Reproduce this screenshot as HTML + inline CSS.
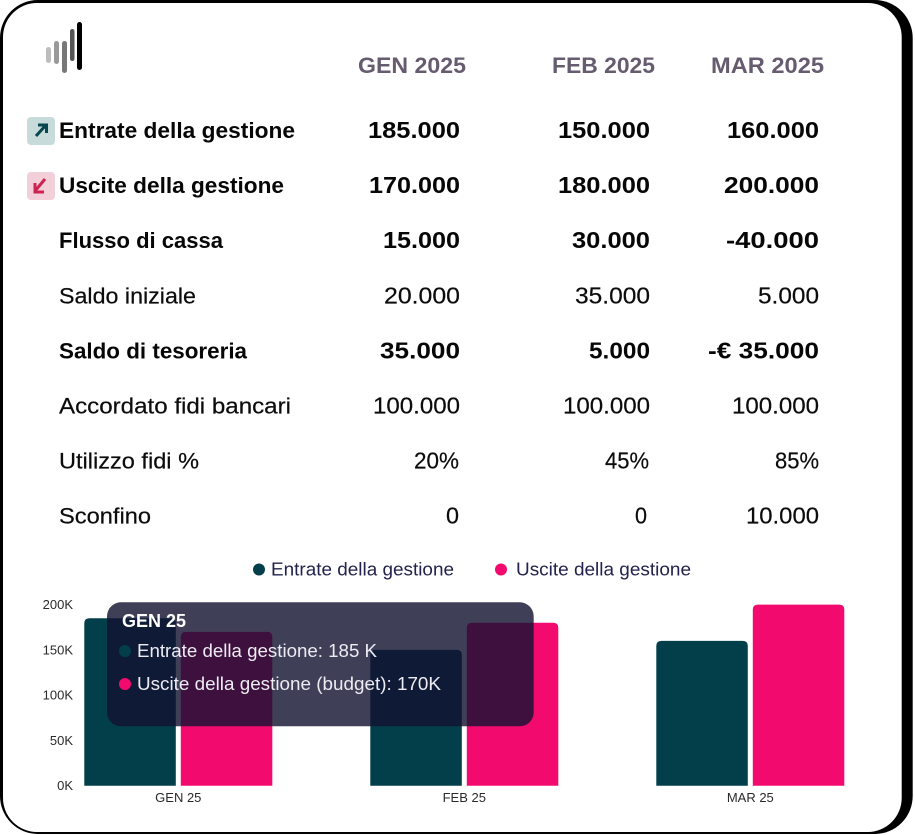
<!DOCTYPE html>
<html lang="it">
<head>
<meta charset="utf-8">
<title>Flusso di cassa</title>
<style>
html,body{margin:0;padding:0;background:#fff;width:915px;height:835px;overflow:hidden}
svg{display:block;font-family:"Liberation Sans",sans-serif}
.h{font-size:22px;font-weight:700;fill:#675c6f}
.b{font-size:22.5px;font-weight:700;fill:#070707}
.r{font-size:22.5px;fill:#0c0c0c;stroke:#0c0c0c;stroke-width:.2px}
.nb{font-size:23px;font-weight:700;fill:#070707}
.nr{font-size:23px;fill:#0c0c0c;stroke:#0c0c0c;stroke-width:.2px}
.tick{font-size:13px;fill:#2a2a2a}
.leg{font-size:18px;fill:#22224e}
</style>
</head>
<body>
<svg width="915" height="835" viewBox="0 0 915 835">
  <rect x="0" y="0" width="912.7" height="834" rx="38" fill="#000"/>
  <rect x="3" y="3" width="898.7" height="829" rx="34" fill="#fff"/>

  <g>
    <rect x="46" y="47" width="5" height="16" rx="2.5" fill="#bdbdbd"/>
    <rect x="54" y="41" width="5" height="23" rx="2.5" fill="#999"/>
    <rect x="62" y="41" width="5" height="32" rx="2.5" fill="#777"/>
    <rect x="70" y="29" width="4.500" height="32" rx="2.2" fill="#555"/>
    <rect x="77" y="22" width="5" height="48" rx="2.5" fill="#000"/>
  </g>

  <text class="h" x="358" y="73" textLength="108" lengthAdjust="spacingAndGlyphs">GEN 2025</text>
  <text class="h" x="552" y="73" textLength="103" lengthAdjust="spacingAndGlyphs">FEB 2025</text>
  <text class="h" x="711" y="73" textLength="113" lengthAdjust="spacingAndGlyphs">MAR 2025</text>

  <g>
    <rect x="27" y="117" width="28" height="28" rx="4" fill="#c8dbdb"/>
    <path d="M36 136 L46 125 M38 125 H46.500 V133" fill="none" stroke="#07474f" stroke-width="3"/>
  </g>
  <g>
    <rect x="27" y="172" width="28" height="28" rx="4" fill="#f3d0d9"/>
    <path d="M45 179 L35 191 M35 183 V192 H44" fill="none" stroke="#cc2350" stroke-width="3"/>
  </g>

  <g>
    <text class="b" x="59" y="138" textLength="236" lengthAdjust="spacingAndGlyphs">Entrate della gestione</text>
    <text class="nb" x="368" y="138" textLength="92" lengthAdjust="spacingAndGlyphs">185.000</text>
    <text class="nb" x="558" y="138" textLength="92" lengthAdjust="spacingAndGlyphs">150.000</text>
    <text class="nb" x="727" y="138" textLength="92" lengthAdjust="spacingAndGlyphs">160.000</text>
  </g>
  <g>
    <text class="b" x="59" y="193" textLength="225" lengthAdjust="spacingAndGlyphs">Uscite della gestione</text>
    <text class="nb" x="369" y="193" textLength="91" lengthAdjust="spacingAndGlyphs">170.000</text>
    <text class="nb" x="558" y="193" textLength="92" lengthAdjust="spacingAndGlyphs">180.000</text>
    <text class="nb" x="724" y="193" textLength="95" lengthAdjust="spacingAndGlyphs">200.000</text>
  </g>
  <g>
    <text class="b" x="59" y="248" textLength="164" lengthAdjust="spacingAndGlyphs">Flusso di cassa</text>
    <text class="nb" x="383" y="248" textLength="77" lengthAdjust="spacingAndGlyphs">15.000</text>
    <text class="nb" x="572" y="248" textLength="78" lengthAdjust="spacingAndGlyphs">30.000</text>
    <text class="nb" x="726" y="248" textLength="93" lengthAdjust="spacingAndGlyphs">-40.000</text>
  </g>
  <g>
    <text class="r" x="59" y="303.500" textLength="137" lengthAdjust="spacingAndGlyphs">Saldo iniziale</text>
    <text class="nr" x="384" y="303.500" textLength="76" lengthAdjust="spacingAndGlyphs">20.000</text>
    <text class="nr" x="575" y="303.500" textLength="75" lengthAdjust="spacingAndGlyphs">35.000</text>
    <text class="nr" x="758" y="303.500" textLength="61" lengthAdjust="spacingAndGlyphs">5.000</text>
  </g>
  <g>
    <text class="b" x="59" y="358.500" textLength="188" lengthAdjust="spacingAndGlyphs">Saldo di tesoreria</text>
    <text class="nb" x="380" y="358.500" textLength="80" lengthAdjust="spacingAndGlyphs">35.000</text>
    <text class="nb" x="589" y="358.500" textLength="61" lengthAdjust="spacingAndGlyphs">5.000</text>
    <text class="nb" x="708" y="358.500" textLength="111" lengthAdjust="spacingAndGlyphs">-€ 35.000</text>
  </g>
  <g>
    <text class="r" x="59" y="413.500" textLength="232" lengthAdjust="spacingAndGlyphs">Accordato fidi bancari</text>
    <text class="nr" x="373" y="413.500" textLength="87" lengthAdjust="spacingAndGlyphs">100.000</text>
    <text class="nr" x="563" y="413.500" textLength="87" lengthAdjust="spacingAndGlyphs">100.000</text>
    <text class="nr" x="732" y="413.500" textLength="87" lengthAdjust="spacingAndGlyphs">100.000</text>
  </g>
  <g>
    <text class="r" x="59" y="468.500" textLength="140" lengthAdjust="spacingAndGlyphs">Utilizzo fidi %</text>
    <text class="nr" x="414" y="468.500" textLength="45" lengthAdjust="spacingAndGlyphs">20%</text>
    <text class="nr" x="605" y="468.500" textLength="44" lengthAdjust="spacingAndGlyphs">45%</text>
    <text class="nr" x="775" y="468.500" textLength="44" lengthAdjust="spacingAndGlyphs">85%</text>
  </g>
  <g>
    <text class="r" x="59" y="523.500" textLength="92" lengthAdjust="spacingAndGlyphs">Sconfino</text>
    <text class="nr" x="446" y="523.500" textLength="13" lengthAdjust="spacingAndGlyphs">0</text>
    <text class="nr" x="635" y="523.500" textLength="12" lengthAdjust="spacingAndGlyphs">0</text>
    <text class="nr" x="746" y="523.500" textLength="73" lengthAdjust="spacingAndGlyphs">10.000</text>
  </g>

  <g>
    <g>
      <circle cx="259" cy="569.500" r="6" fill="#033f4a"/>
      <text class="leg" x="271" y="575.500" textLength="183" lengthAdjust="spacingAndGlyphs">Entrate della gestione</text>
    </g>
    <g>
      <circle cx="501" cy="569.500" r="6" fill="#f30a6e"/>
      <text class="leg" x="516" y="575.500" textLength="175" lengthAdjust="spacingAndGlyphs">Uscite della gestione</text>
    </g>
  </g>

  <g id="chart"></g>

  <g>
    <rect x="107" y="602.300" width="426.700" height="124" rx="14" fill="rgb(19,19,49)" fill-opacity="0.81"/>
    <text x="122" y="627" font-size="18" font-weight="700" fill="#fff" textLength="64" lengthAdjust="spacingAndGlyphs">GEN 25</text>
    <circle cx="125" cy="651" r="6" fill="#033f4a"/>
    <text x="137" y="657" font-size="18" fill="#ececf2" textLength="240" lengthAdjust="spacingAndGlyphs">Entrate della gestione: 185 K</text>
    <circle cx="125" cy="684" r="6" fill="#f30a6e"/>
    <text x="137" y="690" font-size="18" fill="#ececf2" textLength="304" lengthAdjust="spacingAndGlyphs">Uscite della gestione (budget): 170K</text>
  </g>
</svg>
<script>
const categories = ['GEN 25', 'FEB 25', 'MAR 25'];
const entrate = [185, 150, 160];
const uscite = [170, 180, 200];
const yTicks = [0, 50, 100, 150, 200];
const NS = 'http://www.w3.org/2000/svg';
const chart = document.getElementById('chart');
const yScale = function (v) { return 785.7 - v * 0.9052; };
const xCenter = function (i) { return 178.3 + i * 286; };
function topRoundedBar(x, w, y0, y1, r) {
  const rr = Math.min(r, Math.max(0, y1 - y0));
  return 'M' + x + ' ' + y1 + 'V' + (y0 + rr) + 'Q' + x + ' ' + y0 + ' ' + (x + rr) + ' ' + y0 +
    'H' + (x + w - rr) + 'Q' + (x + w) + ' ' + y0 + ' ' + (x + w) + ' ' + (y0 + rr) + 'V' + y1 + 'Z';
}
yTicks.forEach(function (t) {
  const el = document.createElementNS(NS, 'text');
  
  
  el.setAttribute('class', 'tick');
  el.setAttribute('x', 73);
  el.setAttribute('y', yScale(t) + 4.5);
  el.setAttribute('text-anchor', 'end');
  el.textContent = t + 'K';
  chart.appendChild(el);
});
categories.forEach(function (c, i) {
  const label = document.createElementNS(NS, 'text');
  
  
  label.setAttribute('class', 'tick');
  label.setAttribute('x', xCenter(i));
  label.setAttribute('y', 802);
  label.setAttribute('text-anchor', 'middle');
  label.textContent = c;
  chart.appendChild(label);

  const teal = document.createElementNS(NS, 'path');
  
  
  teal.setAttribute('d', topRoundedBar(xCenter(i) - 94, 91.5, yScale(entrate[i]), yScale(0), 5));
  teal.setAttribute('fill', '#033f4a');
  chart.appendChild(teal);

  const pink = document.createElementNS(NS, 'path');
  
  
  pink.setAttribute('d', topRoundedBar(xCenter(i) + 2.5, 91.5, yScale(uscite[i]), yScale(0), 5));
  pink.setAttribute('fill', '#f30a6e');
  chart.appendChild(pink);
});
</script>
</body>
</html>
